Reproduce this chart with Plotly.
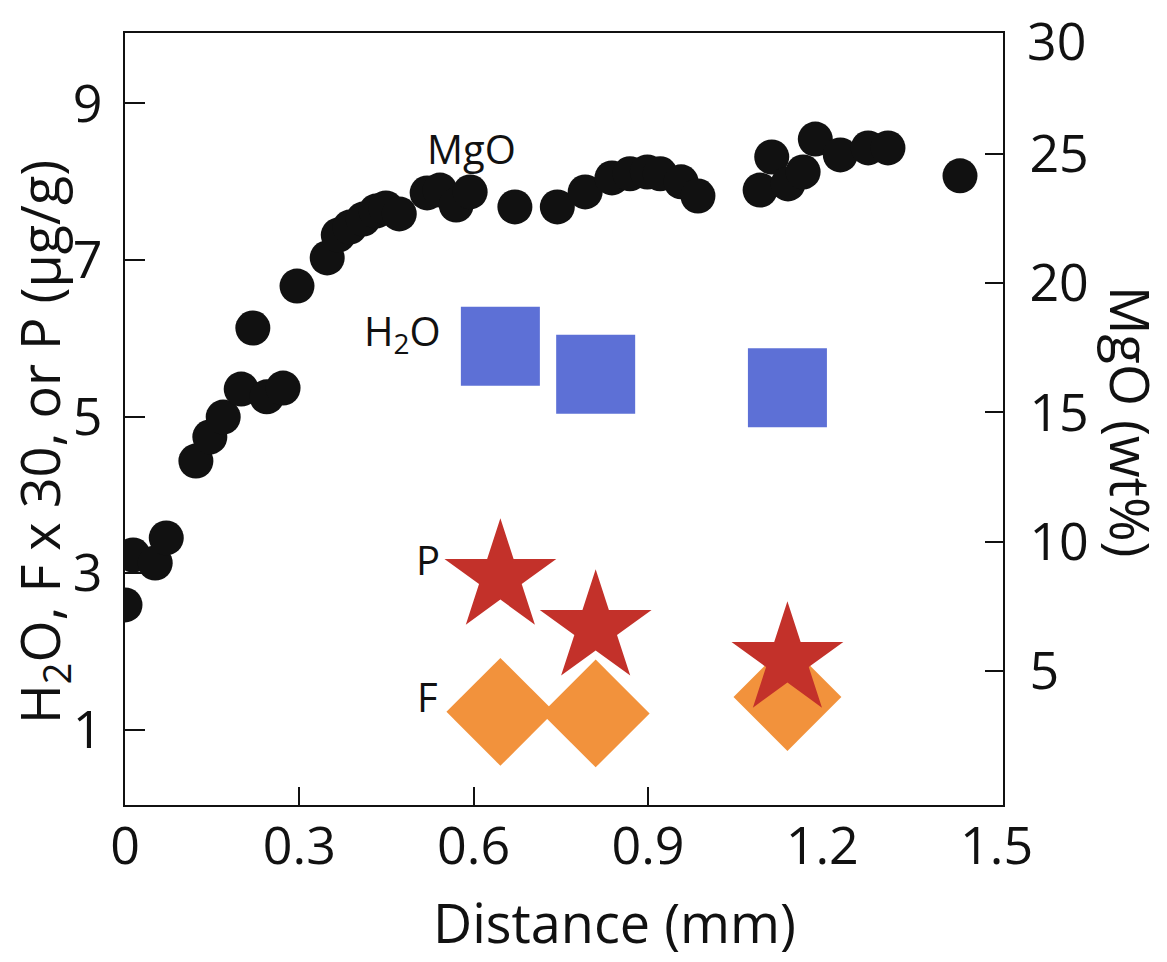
import plotly.graph_objects as go

# ---- data ----
mgo_distance = [0.000, 0.014, 0.052, 0.071, 0.122, 0.146, 0.169, 0.200, 0.244, 0.272,
                0.220, 0.296, 0.348, 0.367, 0.387, 0.410, 0.432, 0.449, 0.472, 0.520,
                0.542, 0.570, 0.594, 0.671, 0.744, 0.792, 0.838, 0.869, 0.899, 0.921,
                0.957, 0.986, 1.093, 1.113, 1.141, 1.167, 1.188, 1.231, 1.279, 1.313,
                1.437]
mgo_wt = [7.56, 9.49, 9.18, 10.15, 13.12, 14.05, 14.82, 15.90, 15.60, 15.94,
          18.26, 19.88, 20.97, 21.85, 22.16, 22.47, 22.78, 22.90, 22.67, 23.48,
          23.59, 23.01, 23.52, 22.94, 22.94, 23.52, 24.06, 24.22, 24.29, 24.22,
          23.91, 23.36, 23.59, 24.87, 23.83, 24.29, 25.56, 24.95, 25.22, 25.22,
          24.14]

volatile_distance = [0.646, 0.810, 1.140]
h2o = [5.90, 5.54, 5.37]
p_vals = [2.95, 2.30, 1.89]
f_x30 = [1.23, 1.21, 1.42]

x_tick_vals = [0, 0.3, 0.6, 0.9, 1.2, 1.5]
x_tick_text = ["0", "0.3", "0.6", "0.9", "1.2", "1.5"]
x_tick_marks = [0.3, 0.6, 0.9]
y_left_ticks = [1, 3, 5, 7, 9]
y_right_ticks = [5, 10, 15, 20, 25]
y_right_top_label = "30"

FONT = "Open Sans"
BLACK = "#111111"

fig = go.Figure()

fig.add_trace(go.Scatter(x=volatile_distance, y=h2o, mode="markers", name="H2O",
                         marker=dict(symbol="square", size=79, color="#5d70d6",
                                     line=dict(width=0)),
                         xaxis="x", yaxis="y"))
fig.add_trace(go.Scatter(x=volatile_distance, y=f_x30, mode="markers", name="F",
                         marker=dict(symbol="diamond", size=83, color="#f2923c",
                                     line=dict(width=0)),
                         xaxis="x", yaxis="y"))
fig.add_trace(go.Scatter(x=volatile_distance, y=p_vals, mode="markers", name="P",
                         marker=dict(symbol="star", size=84, color="#c3312a",
                                     line=dict(width=0)),
                         xaxis="x", yaxis="y"))
fig.add_trace(go.Scatter(x=mgo_distance, y=mgo_wt, mode="markers", name="MgO",
                         marker=dict(symbol="circle", size=35, color=BLACK,
                                     line=dict(width=0)),
                         xaxis="x2", yaxis="y2"))

tickfont = dict(family=FONT, size=52, color=BLACK)

fig.update_layout(
    width=1167, height=962,
    margin=dict(l=125, r=164, t=33, b=157),
    paper_bgcolor="white", plot_bgcolor="white",
    showlegend=False,
    font=dict(family=FONT, color=BLACK),
    xaxis=dict(range=[0, 1.511], tickvals=x_tick_vals, ticktext=x_tick_text,
               ticks="", showline=True, linecolor=BLACK, linewidth=2, mirror=True,
               showgrid=False, zeroline=False, tickfont=tickfont,
               ticklabelstandoff=-5),
    xaxis2=dict(range=[0, 1.511], overlaying="x", anchor="y2", side="bottom",
                tickvals=x_tick_marks, ticks="inside", ticklen=18, tickwidth=2,
                tickcolor=BLACK, showticklabels=False, showline=False,
                showgrid=False, zeroline=False),
    yaxis=dict(range=[0.04, 9.90], tickvals=y_left_ticks, ticks="inside",
               ticklen=20, tickwidth=2, tickcolor=BLACK, showline=True,
               linecolor=BLACK, linewidth=2, mirror=True, showgrid=False,
               zeroline=False, tickfont=tickfont, ticklabelstandoff=10),
    yaxis2=dict(range=[-0.17, 29.66], overlaying="y", anchor="x2", side="right",
                tickvals=y_right_ticks, ticks="inside", ticklen=18, tickwidth=2,
                tickcolor=BLACK, showline=True, linecolor=BLACK, linewidth=2,
                showgrid=False, zeroline=False, tickfont=tickfont,
                ticklabelstandoff=14),
)

lab = dict(family=FONT, size=40, color=BLACK)
title_font = dict(family=FONT, size=54, color=BLACK)
annotations = [
    dict(text="MgO", x=0.597, y=8.42, xref="x", yref="y", showarrow=False,
         xanchor="center", yanchor="middle", font=lab),
    dict(text="H<sub>2</sub>O", x=0.547, y=6.07, xref="x", yref="y", showarrow=False,
         xanchor="right", yanchor="middle", font=lab),
    dict(text="P", x=0.546, y=3.17, xref="x", yref="y", showarrow=False,
         xanchor="right", yanchor="middle", font=lab),
    dict(text="F", x=0.542, y=1.42, xref="x", yref="y", showarrow=False,
         xanchor="right", yanchor="middle", font=lab),
    dict(text=y_right_top_label, x=1, y=(805 - 39) / 772, xref="paper", yref="paper",
         showarrow=False, xanchor="left", yanchor="middle", xshift=22,
         font=tickfont),
    dict(text="Distance (mm)", x=(614 - 125) / 878, y=-(922 - 805) / 772,
         xref="paper", yref="paper", showarrow=False, xanchor="center",
         yanchor="middle", font=dict(family=FONT, size=54, color=BLACK)),
    dict(text="H<sub>2</sub>O, F x 30, or P (μg/g)", x=(42 - 125) / 878,
         y=(805 - 442) / 772, xref="paper", yref="paper", showarrow=False,
         textangle=-90, xanchor="center", yanchor="middle", font=title_font),
    dict(text="MgO (wt%)", x=(1131 - 125) / 878, y=(805 - 422) / 772,
         xref="paper", yref="paper", showarrow=False, textangle=90,
         xanchor="center", yanchor="middle", font=title_font),
]
fig.update_layout(annotations=annotations)

fig.write_html("out.html")
